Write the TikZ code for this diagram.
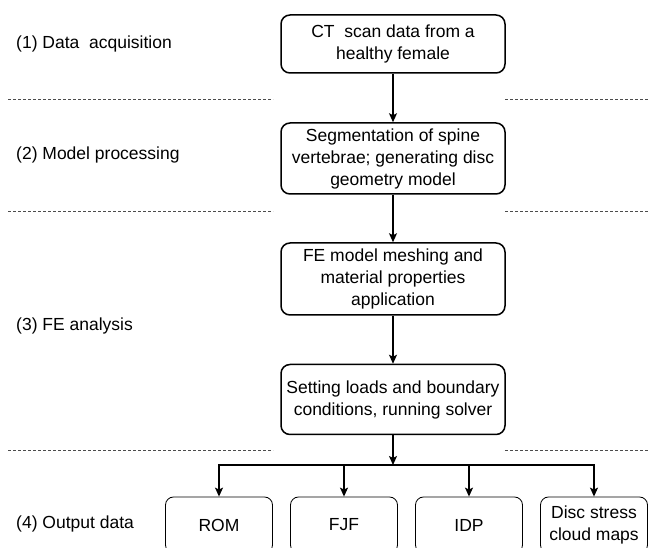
\documentclass[tikz,border=0pt]{standalone}
\usepackage{fontspec}
\setmainfont{Liberation Sans}
\usetikzlibrary{arrows.meta}

\begin{document}
\begin{tikzpicture}[x=1pt, y=-1pt,
    stageBox/.style={draw, line width=1.5pt, rounded corners=9pt, minimum width=224pt, align=center, inner sep=0pt},
    stageOut/.style={draw, line width=0.8pt, rounded corners=8pt, minimum width=107pt, minimum height=56pt, align=center, inner sep=0pt},
    stageLabel/.style={anchor=west, inner sep=0pt},
    stageArrow/.style={-{Stealth[length=9pt, width=8pt, inset=2pt]}, line width=1.5pt},
    stageSep/.style={dash pattern=on 3pt off 2pt, line width=0.6pt, draw=black!70},
    font=\fontsize{17.5}{22}\selectfont]

    \clip (0,0) rectangle (649,548);

    % stages
    \node[stageBox, minimum height=58pt] (scan) at (393,44) {CT\ \ scan data from a\\healthy female};
    \node[stageBox, minimum height=71pt] (segment) at (393,158.5) {Segmentation of spine\\vertebrae; generating disc\\geometry model};
    \node[stageBox, minimum height=72pt] (mesh) at (393,279) {FE model meshing and\\material properties\\application};
    \node[stageBox, minimum height=70pt] (solve) at (393,399.5) {Setting loads and boundary\\conditions, running solver};

    % outputs
    \node[stageOut] (rom) at (219,525) {ROM};
    \node[stageOut] (fjf) at (344,525) {FJF};
    \node[stageOut] (idp) at (469,525) {IDP};
    \node[stageOut] (disc) at (594,525) {Disc stress\\cloud maps};

    % step labels
    \node[stageLabel] (acq) at (16,44) {(1) Data\ \ acquisition};
    \node[stageLabel] (proc) at (16,155) {(2) Model processing};
    \node[stageLabel] (fea) at (16,326) {(3) FE analysis};
    \node[stageLabel] (outp) at (16,524) {(4) Output data};

    \foreach \y in {99,211,450} {
        \draw[stageSep] (8,\y) -- (273,\y);
        \draw[stageSep] (505,\y) -- (649,\y);
    }

    \draw[stageArrow] (scan) -- (segment);
    \draw[stageArrow] (segment) -- (mesh);
    \draw[stageArrow] (mesh) -- (solve);
    \coordinate (split) at (393,465);
    \draw[stageArrow] (solve) -- (split);
    \draw[line width=1.5pt, line cap=rect] (rom.north |- split) -- (disc.north |- split);
    \foreach \n in {rom,fjf,idp,disc}
        \draw[stageArrow] (\n.north |- split) -- (\n);
\end{tikzpicture}
\end{document}
